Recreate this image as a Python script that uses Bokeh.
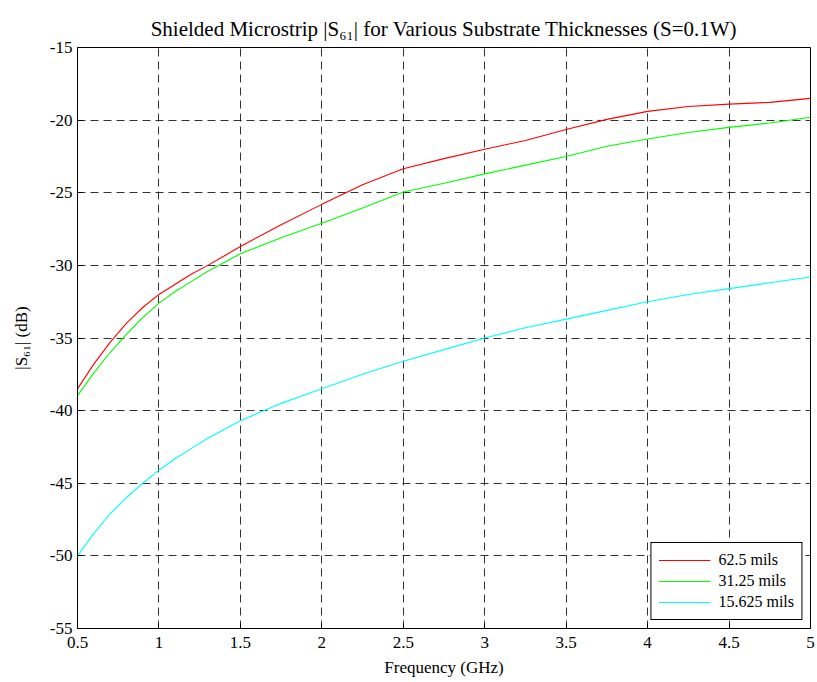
from bokeh.plotting import figure
from bokeh.models import Range1d, FixedTicker, Legend, LegendItem
from bokeh.embed import file_html
from bokeh.resources import INLINE

freq = [0.5, 0.6, 0.7, 0.8, 0.9, 1.0, 1.1, 1.2, 1.3, 1.4, 1.5, 1.75, 2.0, 2.25,
        2.5, 2.75, 3.0, 3.25, 3.5, 3.75, 4.0, 4.25, 4.5, 4.75, 5.0]
s61_625 = [-38.5, -36.8, -35.3, -34.0, -32.9, -32.0, -31.3, -30.6, -30.0, -29.35,
           -28.7, -27.2, -25.8, -24.45, -23.35, -22.65, -22.0, -21.4, -20.65, -19.95,
           -19.4, -19.06, -18.9, -18.78, -18.5]
s61_3125 = [-38.97, -37.4, -36.0, -34.75, -33.6, -32.6, -31.8, -31.1, -30.4, -29.8,
            -29.2, -28.1, -27.1, -26.05, -24.95, -24.35, -23.7, -23.1, -22.5, -21.8,
            -21.3, -20.85, -20.5, -20.2, -19.8]
s61_15625 = [-50.0, -48.45, -47.1, -46.0, -45.0, -44.1, -43.3, -42.6, -41.9, -41.3,
             -40.7, -39.5, -38.5, -37.5, -36.6, -35.8, -35.0, -34.3, -33.7, -33.1,
             -32.5, -32.0, -31.6, -31.2, -30.8]
series_names = ["62.5 mils", "31.25 mils", "15.625 mils"]
series_colors = ["#ff0000", "#00ff00", "#00ffff"]

x_ticks = [0.5, 1, 1.5, 2, 2.5, 3, 3.5, 4, 4.5, 5]
x_tick_labels = ["0.5", "1", "1.5", "2", "2.5", "3", "3.5", "4", "4.5", "5"]
y_ticks = [-55, -50, -45, -40, -35, -30, -25, -20, -15]
y_tick_labels = ["-55", "-50", "-45", "-40", "-35", "-30", "-25", "-20", "-15"]
title_text = "Shielded Microstrip |S\u2086\u2081| for Various Substrate Thicknesses (S=0.1W)"

FONT = "Liberation Serif"

p = figure(width=817, height=682, output_backend="svg", toolbar_location=None,
           x_range=Range1d(0.5, 5), y_range=Range1d(-55, -15),
           min_border_left=77, min_border_right=7, min_border_top=47, min_border_bottom=54,
           title=title_text)

p.title.text_font = FONT
p.title.text_font_size = "21px"
p.title.text_font_style = "normal"
p.title.align = "center"
p.title.text_color = "black"
p.title.standoff = 10
p.title.vertical_align = "top"

p.outline_line_color = "black"
p.outline_line_width = 1
p.outline_line_alpha = 1

xaxis = p.below[0]
yaxis = p.left[0]

for ax in (xaxis, yaxis):
    ax.major_label_text_font = FONT
    ax.major_label_text_font_size = "17px"
    ax.major_label_text_color = "black"
    ax.axis_label_text_font = FONT
    ax.axis_label_text_font_size = "17px"
    ax.axis_label_text_font_style = "normal"
    ax.axis_label_text_color = "black"
    ax.axis_line_color = "black"
    ax.major_tick_line_color = "black"
    ax.major_tick_in = 5
    ax.major_tick_out = 0
    ax.minor_tick_line_color = None

xaxis.ticker = FixedTicker(ticks=x_ticks)
yaxis.ticker = FixedTicker(ticks=y_ticks)
xaxis.major_label_overrides = {float(t): l for t, l in zip(x_ticks, x_tick_labels)}
yaxis.major_label_overrides = {float(t): l for t, l in zip(y_ticks, y_tick_labels)}
xaxis.axis_label = "Frequency (GHz)"
yaxis.axis_label = "|S\u2086\u2081| (dB)"
xaxis.axis_label_standoff = 7
yaxis.axis_label_standoff = 16
xaxis.major_label_standoff = 8
yaxis.major_label_standoff = 5

for g in (p.xgrid[0], p.ygrid[0]):
    g.grid_line_color = "black"
    g.grid_line_alpha = 0.8
    g.grid_line_dash = "8 5"
    g.grid_line_width = 1

items = []
for ys, name, col in zip([s61_625, s61_3125, s61_15625], series_names, series_colors):
    r = p.line(freq, ys, line_color=col, line_width=1.1)
    items.append(LegendItem(label=name, renderers=[r]))

legend = Legend(items=items, location="bottom_right")
legend.label_text_font = FONT
legend.label_text_font_size = "16px"
legend.label_text_color = "black"
legend.border_line_color = "black"
legend.border_line_width = 1
legend.border_line_alpha = 1
legend.background_fill_color = "white"
legend.background_fill_alpha = 1
legend.glyph_width = 52
legend.glyph_height = 20
legend.label_height = 20
legend.spacing = 1
legend.padding = 7
legend.margin = 8
legend.label_standoff = 8
p.add_layout(legend, "center")

open("out.html", "w").write(file_html(p, INLINE))
